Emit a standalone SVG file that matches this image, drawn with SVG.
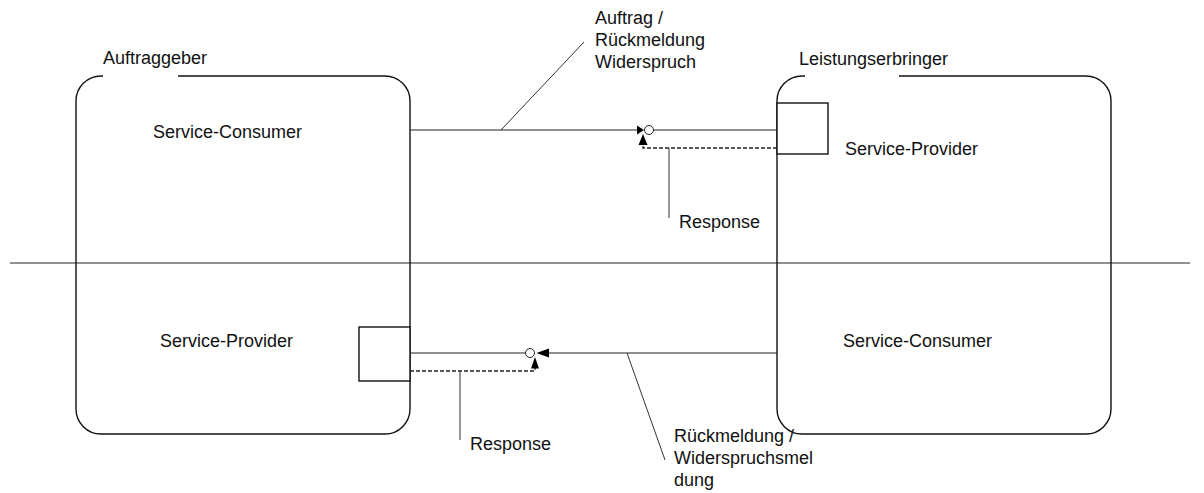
<svg xmlns="http://www.w3.org/2000/svg" width="1204" height="493" viewBox="0 0 1204 493">
<style>
text{font-family:"Liberation Sans",Arial,sans-serif;font-size:18px;fill:#111}
.box{fill:none;stroke:#111;stroke-width:1.4}
.port{fill:#fff;stroke:#111;stroke-width:1.4}
.ln{fill:none;stroke:#222;stroke-width:1.1}
.dash{fill:none;stroke:#222;stroke-width:1.3;stroke-dasharray:4 2}
.lead{fill:none;stroke:#333;stroke-width:1}
.ah{fill:#000;stroke:none}
.ring{fill:#fff;stroke:#222;stroke-width:1}
</style>
<rect width="1204" height="493" fill="#fff"/>
<g id="divider"><line class="ln" x1="10" y1="263" x2="1190" y2="263"/></g>
<g id="auftraggeber">
<path class="box" d="M178 76 H385 A25 25 0 0 1 410 101 V409 A25 25 0 0 1 385 434 H101 A25 25 0 0 1 76 409 V101 A25 25 0 0 1 101 76 H103"/>
<text x="103" y="64">Auftraggeber</text>
<text x="153" y="138">Service-Consumer</text>
<text x="160" y="347">Service-Provider</text>
</g>
<g id="leistungserbringer">
<path class="box" d="M899 76 H1086 A25 25 0 0 1 1111 101 V409 A25 25 0 0 1 1086 434 H802 A25 25 0 0 1 777 409 V101 A25 25 0 0 1 802 76 H805"/>
<text x="799" y="65">Leistungserbringer</text>
<text x="845" y="155">Service-Provider</text>
<text x="843" y="347">Service-Consumer</text>
</g>
<g id="port-top"><rect class="port" x="777" y="103" width="51" height="51"/></g>
<g id="port-bottom"><rect class="port" x="359" y="327" width="51" height="54"/></g>
<g id="connectors">
<line class="ln" x1="410" y1="130" x2="638" y2="130"/>
<path class="ah" d="M644 130 L637 125.5 L637 134.5 Z"/>
<line class="ln" x1="653.5" y1="130" x2="777" y2="130"/>
<circle class="ring" cx="649" cy="130" r="4.5"/>
<path class="dash" d="M777 148 H643 V145"/>
<path class="ah" d="M643 134 L638.5 145 L647.5 145 Z"/>
<line class="lead" x1="669" y1="148" x2="669" y2="218"/>
<line class="lead" x1="501" y1="130" x2="584" y2="42"/>
<line class="ln" x1="410" y1="353" x2="525.5" y2="353"/>
<circle class="ring" cx="530" cy="353" r="4.5"/>
<path class="ah" d="M536.5 353 L549 348.5 L549 357.5 Z"/>
<line class="ln" x1="549" y1="353" x2="777" y2="353"/>
<path class="dash" d="M410 371 H535 V368"/>
<path class="ah" d="M535 357 L531 368.5 L539 368.5 Z"/>
<line class="lead" x1="460" y1="371" x2="460" y2="440"/>
<line class="lead" x1="627" y1="353" x2="665" y2="460"/>
</g>
<g id="labels">
<text x="595" y="24">Auftrag /</text>
<text x="595" y="46">Rückmeldung</text>
<text x="595" y="68">Widerspruch</text>
<text x="679" y="228">Response</text>
<text x="470" y="450">Response</text>
<text x="674" y="442">Rückmeldung /</text>
<text x="674" y="464">Widerspruchsmel</text>
<text x="674" y="486">dung</text>
</g>
</svg>
